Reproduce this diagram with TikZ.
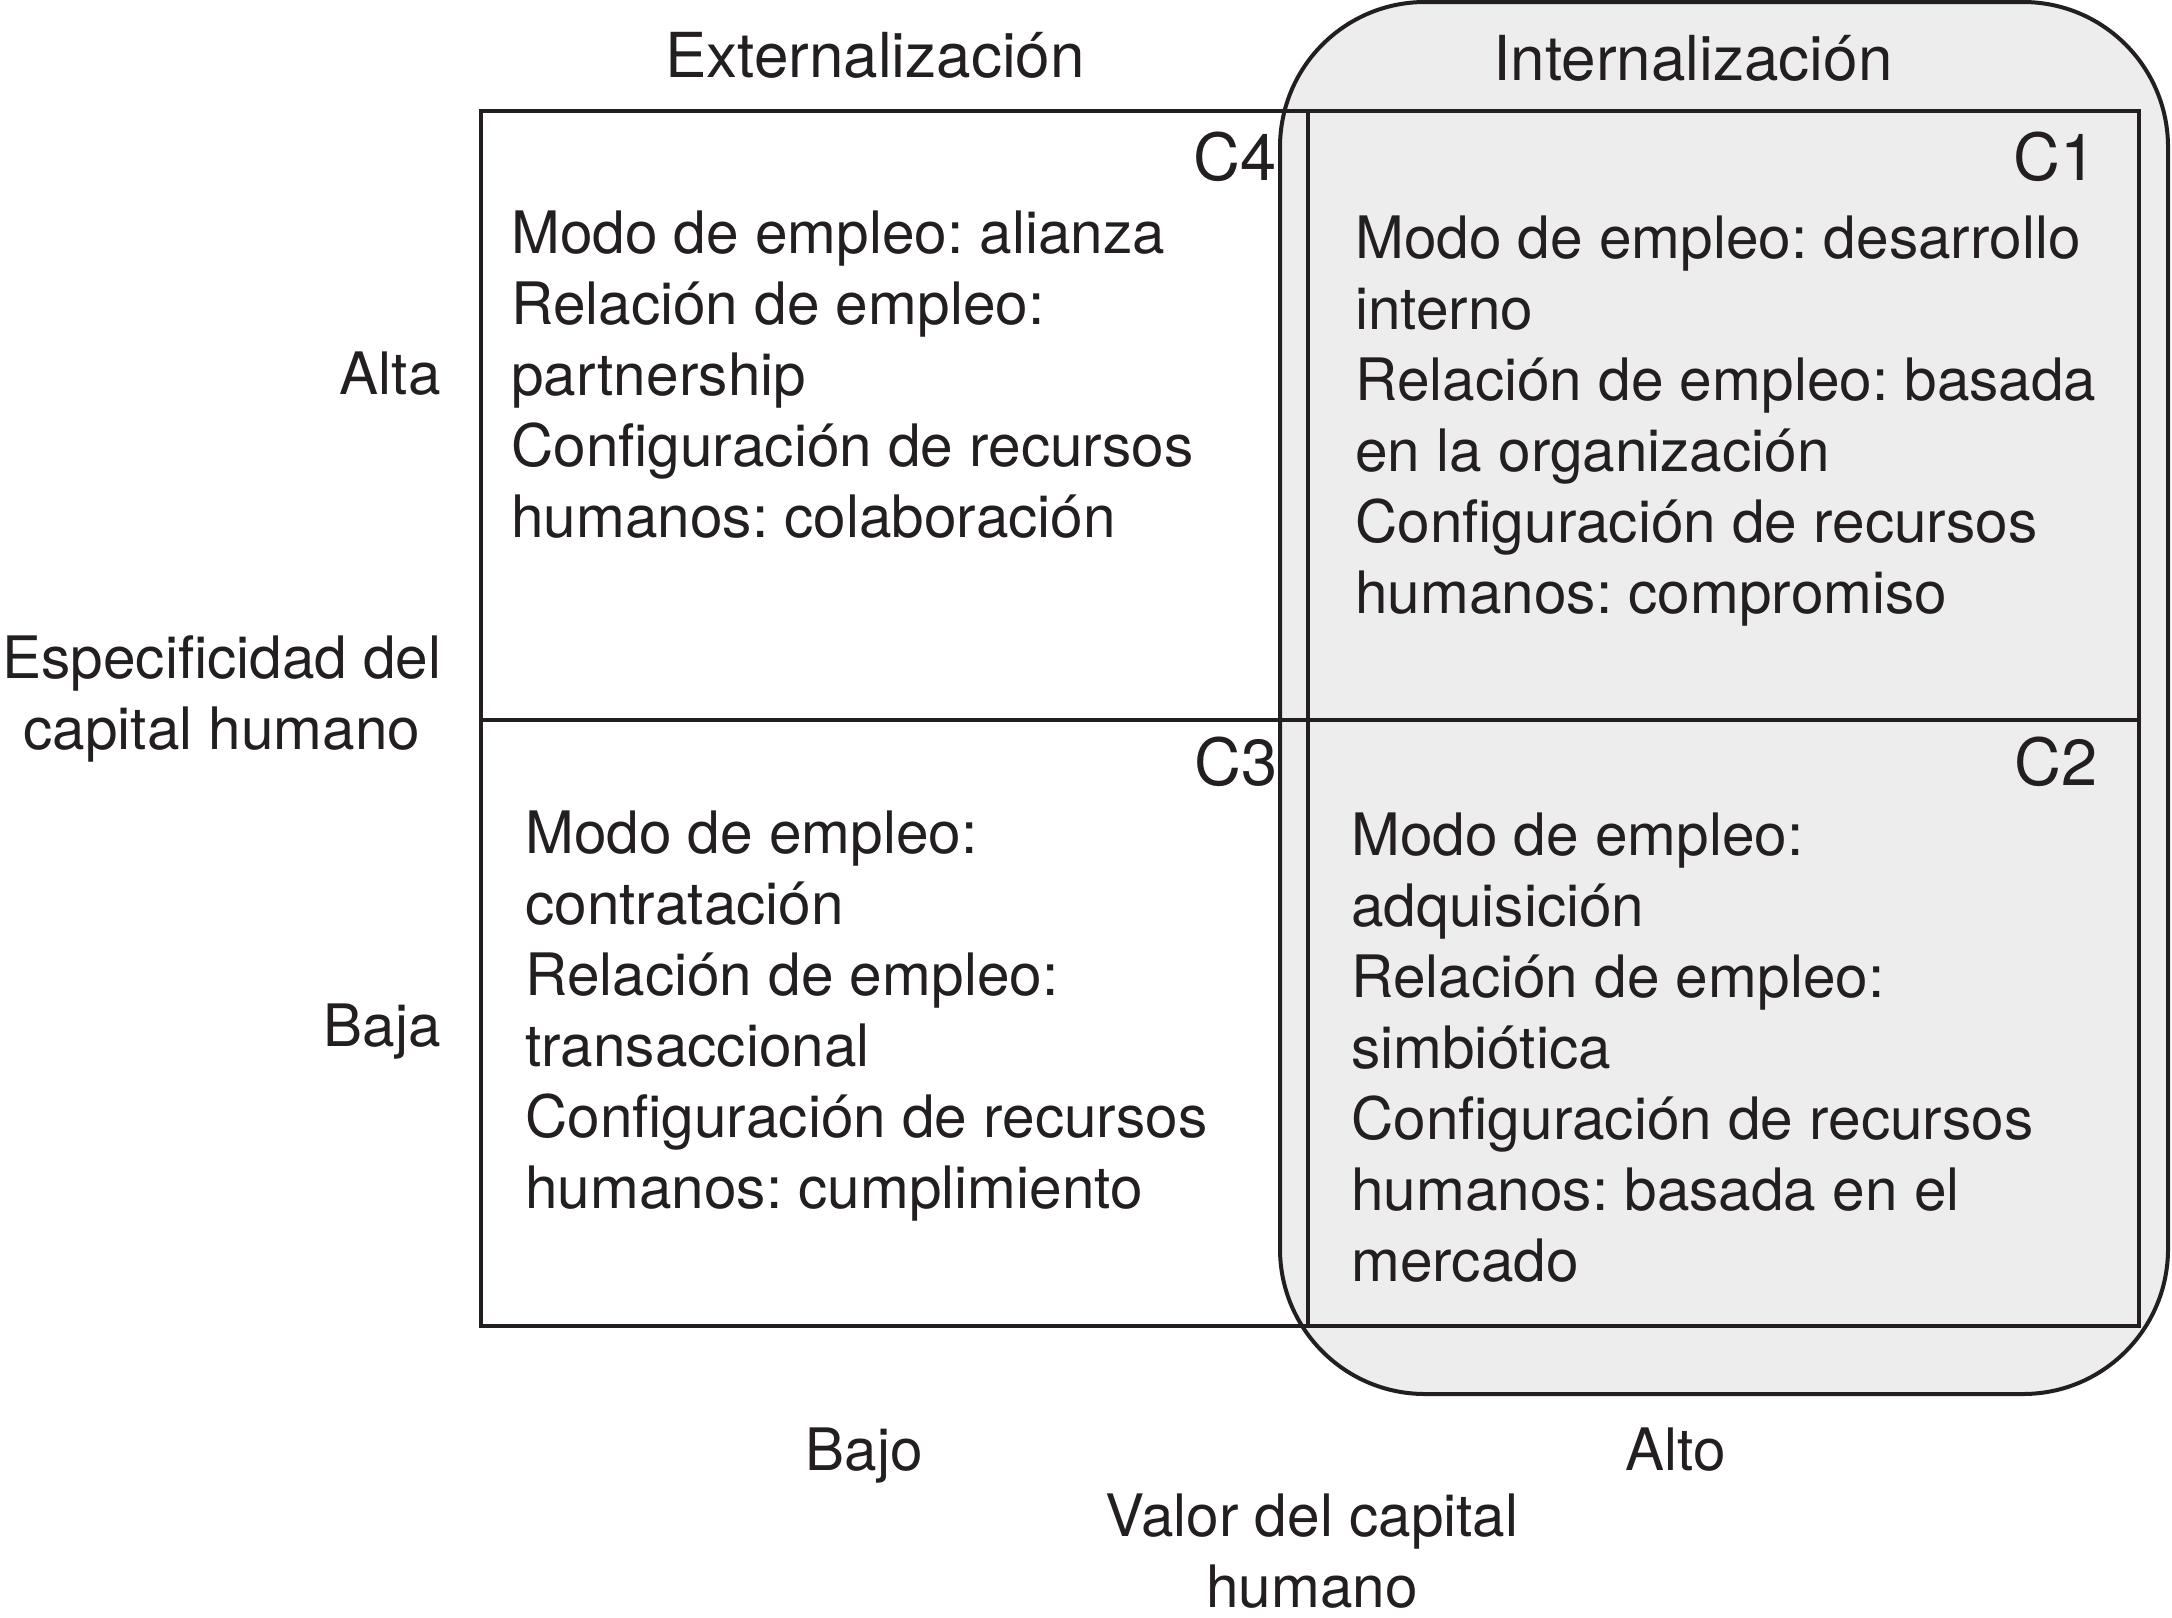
\documentclass[tikz,border=0pt]{standalone}
\usepackage{fontspec}
\setmainfont{TeX Gyre Heros}
\definecolor{ink}{HTML}{231F20}
\definecolor{boxgray}{HTML}{EDEDED}
\frenchspacing
\begin{document}
\begin{tikzpicture}[x=0.5pt,y=-0.5pt,
  every node/.style={inner sep=0pt, text=ink, font=\fontsize{29.25pt}{35.5pt}\selectfont},
  celltext/.style={align=left, anchor=north west},
  axistext/.style={align=center, anchor=north},
  headtext/.style={anchor=base, font=\fontsize{31pt}{37pt}\selectfont},
  quadlabel/.style={anchor=base east, font=\fontsize{32.5pt}{39pt}\selectfont},
  gridline/.style={draw=ink, line width=1.9pt},
  roundbox/.style={rounded corners=72.5pt}]
\useasboundingbox (0,0) rectangle (2172,1617);
\fill[white] (0,0) rectangle (2172,1617);
% internalizacion region
\fill[boxgray, roundbox] (1280,2) rectangle (2168,1394);
% grid
\coordinate (gNW) at (481,111);
\coordinate (gSE) at (2139,1326);
\coordinate (gML) at (481,720);
\coordinate (gMR) at (2139,720);
\coordinate (gMT) at (1308,111);
\coordinate (gMB) at (1308,1326);
\draw[gridline] (gNW) rectangle (gSE);
\draw[gridline] (gML) -- (gMR);
\draw[gridline] (gMT) -- (gMB);
\draw[draw=ink, line width=2pt, roundbox] (1280,2) rectangle (2168,1394);
% headers
\node[headtext] (ext) at (875,77) {Externalización};
\node[headtext] (int) at (1693,80) {Internalización};
% quadrant labels
\node[quadlabel] (c4) at (1277,180) {C4};
\node[quadlabel] (c1) at (2097,180) {C1};
\node[quadlabel] (c3) at (1278,785) {C3};
\node[quadlabel] (c2) at (2098,785) {C2};
% cell texts
\node[celltext] (t4) at (511,210) {Modo de empleo: alianza\\Relación de empleo:\\partnership\\Configuración de recursos\\humanos: colaboración};
\node[celltext] (t1) at (1355,215) {Modo de empleo: desarrollo\\interno\\Relación de empleo: basada\\en la organización\\Configuración de recursos\\humanos: compromiso};
\node[celltext] (t3) at (525,810) {Modo de empleo:\\contratación\\Relación de empleo:\\transaccional\\Configuración de recursos\\humanos: cumplimiento};
\node[celltext] (t2) at (1351,812) {Modo de empleo:\\adquisición\\Relación de empleo:\\simbiótica\\Configuración de recursos\\humanos: basada en el\\mercado};
% axis labels
\node[anchor=base east] (alta) at (441,394) {Alta};
\node[anchor=base east] (baja) at (441,1046) {Baja};
\node[axistext] (esp) at (222,635) {Especificidad del\\capital humano};
\node[anchor=base] (bajo) at (864,1470) {Bajo};
\node[anchor=base] (alto) at (1676,1470) {Alto};
\node[axistext] (valor) at (1312,1493) {Valor del capital\\humano};
\end{tikzpicture}
\end{document}
